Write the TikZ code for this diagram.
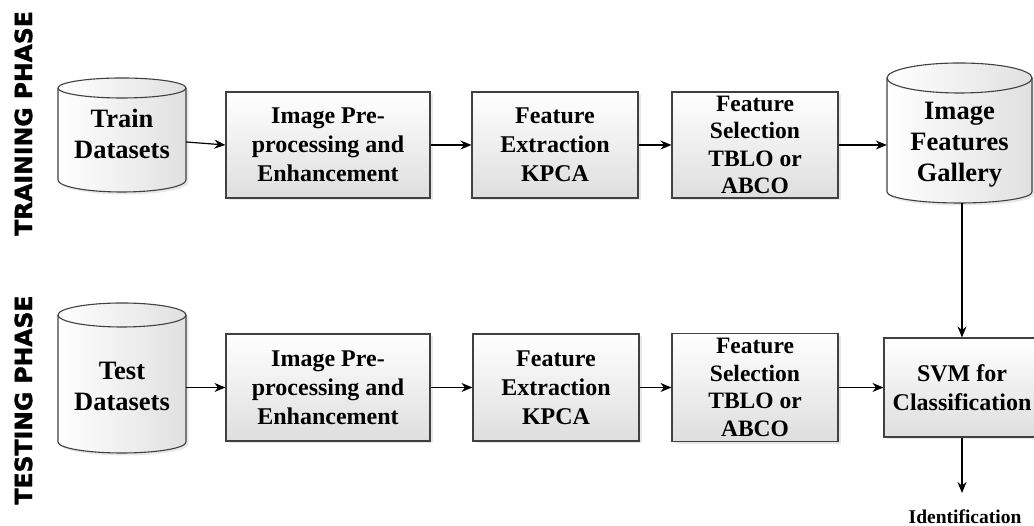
\documentclass[tikz,border=0pt]{standalone}
\usepackage{fontspec}
\setmainfont{Liberation Serif}
\newfontfamily\phasefont{DejaVu Sans}[BoldFeatures={FakeBold=1.5}]
\usetikzlibrary{arrows.meta,shadows}

\begin{document}
\begin{tikzpicture}[x=1pt,y=1pt,
  shade box/.style={draw=black!75, line width=1.1pt, top color=white, bottom color=black!13,
    drop shadow={shadow xshift=2.5pt, shadow yshift=-2.5pt, opacity=0.18}},
  box/.style={shade box, align=center, inner sep=0pt, minimum height=106pt,
    font=\fontsize{24}{29}\selectfont\bfseries},
  tightbox/.style={box, font=\fontsize{23.5}{27.5}\selectfont\bfseries},
  cyltext/.style={align=center, inner sep=0pt, minimum height=90pt,
    font=\fontsize{26.5}{31}\selectfont\bfseries},
  cylbody/.style={draw=black!75, line width=1.1pt, left color=white, right color=black!12,
    drop shadow={shadow xshift=2.5pt, shadow yshift=-2.5pt, opacity=0.18}},
  cylline/.style={draw=black!75, line width=1.1pt},
  arr/.style={-{Stealth[length=11pt,width=9pt]}, line width=1.2pt},
  phase/.style={rotate=90, inner sep=0pt, font=\phasefont\fontsize{23.5}{23.5}\selectfont\bfseries}]

\useasboundingbox (0,0) rectangle (1034,526);

% cylinders (drawn first, text nodes on top)
\path[cylbody] (58,438) -- (58,346) arc[start angle=180,end angle=360,x radius=64pt,y radius=12pt]
  -- (186,438) arc[start angle=0,end angle=180,x radius=64pt,y radius=10pt] -- cycle;
\draw[cylline] (58,438) arc[start angle=180,end angle=360,x radius=64pt,y radius=10pt];

\path[cylbody] (58,211) -- (58,84) arc[start angle=180,end angle=360,x radius=64pt,y radius=11pt]
  -- (186,211) arc[start angle=0,end angle=180,x radius=64pt,y radius=12pt] -- cycle;
\draw[cylline] (58,211) arc[start angle=180,end angle=360,x radius=64pt,y radius=12pt];

\path[cylbody] (887,448) -- (887,334) arc[start angle=180,end angle=360,x radius=72.5pt,y radius=11pt]
  -- (1032,448) arc[start angle=0,end angle=180,x radius=72.5pt,y radius=15pt] -- cycle;
\draw[cylline] (887,448) arc[start angle=180,end angle=360,x radius=72.5pt,y radius=15pt];

% phase labels
\node[phase] (trainphase) at (23.5,402.5) {TRAINING PHASE};
\node[phase] (testphase) at (23.5,126) {TESTING PHASE};

% training row
\node[cyltext, minimum width=128pt] (train) at (122,392) {Train\\Datasets};
\node[box, minimum width=204pt] (t1) at (328,381) {Image Pre-\\processing and\\Enhancement};
\node[box, minimum width=166pt] (t2) at (555,381) {Feature\\Extraction\\KPCA};
\node[tightbox, minimum width=166pt] (t3) at (755,381) {Feature\\Selection\\TBLO or\\ABCO};
\node[cyltext, minimum width=145pt] (gal) at (959.5,381.5) {Image\\Features\\Gallery};

% testing row
\node[cyltext, minimum width=128pt] (test) at (122,140) {Test\\Datasets};
\node[box, minimum width=204pt, minimum height=107pt] (b1) at (328,138.5) {Image Pre-\\processing and\\Enhancement};
\node[box, minimum width=166pt, minimum height=107pt] (b2) at (556,138.5) {Feature\\Extraction\\KPCA};
\node[tightbox, minimum width=166pt, minimum height=108pt] (b3) at (755,138.5) {Feature\\Selection\\TBLO or\\ABCO};
\node[box, minimum width=156pt, minimum height=99pt] (svm) at (962,138.5) {SVM for\\Classification};

\node[inner sep=0pt, font=\fontsize{19.5}{22}\selectfont\bfseries] (ident) at (965,9) {Identification};
\coordinate (galbot) at (962,323);
\coordinate (idtip) at (962,33);

% connectors
\draw[arr] ([yshift=-8pt]train.east) -- (t1.west);
\draw[arr] (t1.east) -- (t2.west);
\draw[arr] (t2.east) -- (t3.west);
\draw[arr] (t3.east) -- (t3.east -| gal.west);
\draw[arr] (galbot) -- (svm.north);

\draw[arr] (test.east |- b1.west) -- (b1.west);
\draw[arr] (b1.east) -- (b2.west);
\draw[arr] (b2.east) -- (b3.west);
\draw[arr] (b3.east) -- (svm.west);
\draw[arr] (svm.south) -- (idtip);
\end{tikzpicture}
\end{document}
